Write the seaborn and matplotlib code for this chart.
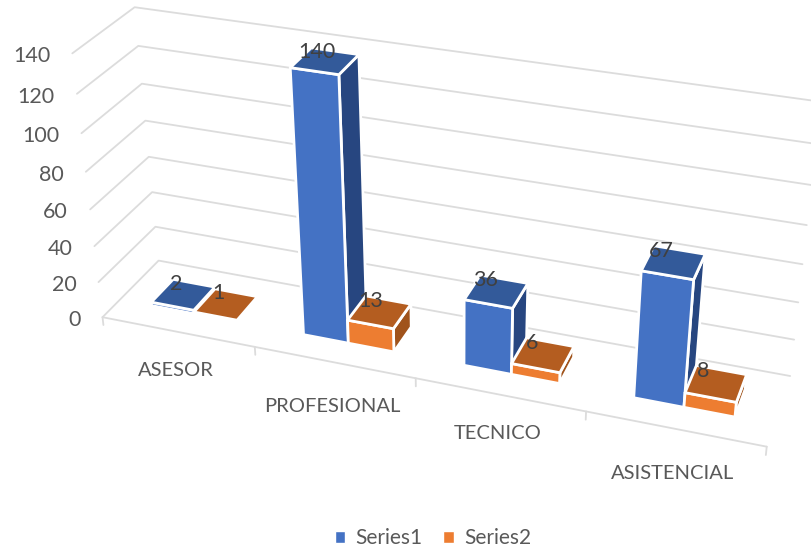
import matplotlib
matplotlib.use("Agg")
import matplotlib.pyplot as plt
from matplotlib.patches import Polygon
import seaborn as sns
import numpy as np
import pandas as pd

categories = ["ASESOR", "PROFESIONAL", "TECNICO", "ASISTENCIAL"]
series1 = [2, 140, 36, 67]
series2 = [1, 13, 6, 8]
y_ticks = [0, 20, 40, 60, 80, 100, 120, 140]

sns.set_theme(style="white")
plt.rcParams["font.family"] = ["Lato", "DejaVu Sans"]

df = pd.DataFrame({
    "category": categories * 2,
    "value": series1 + series2,
    "series": ["Series1"] * 4 + ["Series2"] * 4,
})

# seaborn works out the bars on a flat hidden axes, then they get projected
fig = plt.figure(figsize=(8.12, 5.5), dpi=100)
flat = fig.add_axes([0, 0, 1, 1])
sns.barplot(data=df, x="category", y="value", hue="series", width=0.57, gap=0,
            palette=["#4472C4", "#ED7D31"], saturation=1, ax=flat)
handles, labels = flat.get_legend_handles_labels()
flat.get_legend().remove()
flat.set_visible(False)

ax = fig.add_axes([0, 0, 1, 1])
ax.set_xlim(0, 812)
ax.set_ylim(550, 0)
ax.axis("off")

# Box corners and axis ticks as seen in the picture: (u, depth, value) -> pixel
frame = [
    (0, 0, 0, 103, 317.5), (1, 0, 0, 767, 447), (0, 1, 0, 158, 260.5),
    (1, 1, 0, 790, 376), (0, 0, 140, 72, 53), (0, 1, 140, 135, 7),
    (1, 1, 140, 820, 102), (0.25, 0, 0, 255, 347), (0.5, 0, 0, 415.7, 377),
    (0.75, 0, 0, 585.6, 411.7), (1, 1, 60, 803, 264), (0, 1, 60, 149, 157),
    (0, 0, 60, 90, 210),
]
rows = []
for u, d, v, px, py in frame:
    X = [u, d, v / 140, 1]
    rows.append(X + [0, 0, 0, 0] + [-px * c for c in X])
    rows.append([0, 0, 0, 0] + X + [-py * c for c in X])
P = np.linalg.svd(np.array(rows))[2][-1].reshape(3, 4)


def project(x, d, v):
    # x is in category units, -0.5 .. 3.5
    q = P @ np.array([(x + 0.5) / 4, d, v / 140, 1])
    return q[0] / q[2], q[1] / q[2]


grid = "#DCDCDC"
for t in y_ticks:
    pts = [project(-0.5, 0, t), project(-0.5, 1, t), project(3.5, 1, t)]
    ax.plot(*zip(*pts), color=grid, lw=1.3, zorder=1, solid_capstyle="round")
    ax.annotate(str(t), pts[0], xytext=(-16, -2), textcoords="offset points",
                ha="right", va="center", fontsize=15.5, color="#595959")

# floor front edge and tick marks
ax.plot(*zip(project(-0.5, 0, 0), project(3.5, 0, 0)), color=grid, lw=1.3, zorder=1)
for i in range(len(categories) + 1):
    ax.plot(*zip(project(i - 0.5, 0, 0), project(i - 0.5, 0, -4.5)), color=grid, lw=1.3, zorder=1)

label_drop = [39, 44, 39, 45]
for i, name in enumerate(categories):
    x0, y0 = project(i, 0, 0)
    ax.text(x0 - 2, y0 + label_drop[i], name, ha="center", va="center",
            fontsize=14.5, color="#595959")

front_d, back_d = 0.3, 0.7
top_colors = ["#335A9A", "#B45D20"]
side_colors = ["#274680", "#A0531B"]

z = 3
for i in range(len(categories)):
    for s, cont in enumerate(flat.containers):
        bar = cont.patches[i]
        x0, x1 = bar.get_x(), bar.get_x() + bar.get_width()
        h = bar.get_height()
        front = [project(x0, front_d, 0), project(x1, front_d, 0),
                 project(x1, front_d, h), project(x0, front_d, h)]
        top = [project(x0, front_d, h), project(x1, front_d, h),
               project(x1, back_d, h), project(x0, back_d, h)]
        side = [project(x1, front_d, 0), project(x1, back_d, 0),
                project(x1, back_d, h), project(x1, front_d, h)]
        for pts, col in [(side, side_colors[s]), (front, bar.get_facecolor()), (top, top_colors[s])]:
            ax.add_patch(Polygon(pts, closed=True, facecolor=col, edgecolor="white",
                                 lw=2, joinstyle="round", zorder=z))
        z += 1
        ax.annotate(str(int(h)), project((x0 + x1) / 2, back_d, h), xytext=(-13, -0.5),
                    textcoords="offset points", ha="center", va="center",
                    fontsize=15.5, color="#404040", zorder=50)

fig.legend(handles, labels, loc="center", bbox_to_anchor=(433 / 812, 1 - 538 / 550),
           ncol=2, frameon=False, fontsize=15, labelcolor="#595959",
           handlelength=0.5, handleheight=0.5, handletextpad=0.5, columnspacing=1.0)

fig.savefig("out.png", dpi=100)
